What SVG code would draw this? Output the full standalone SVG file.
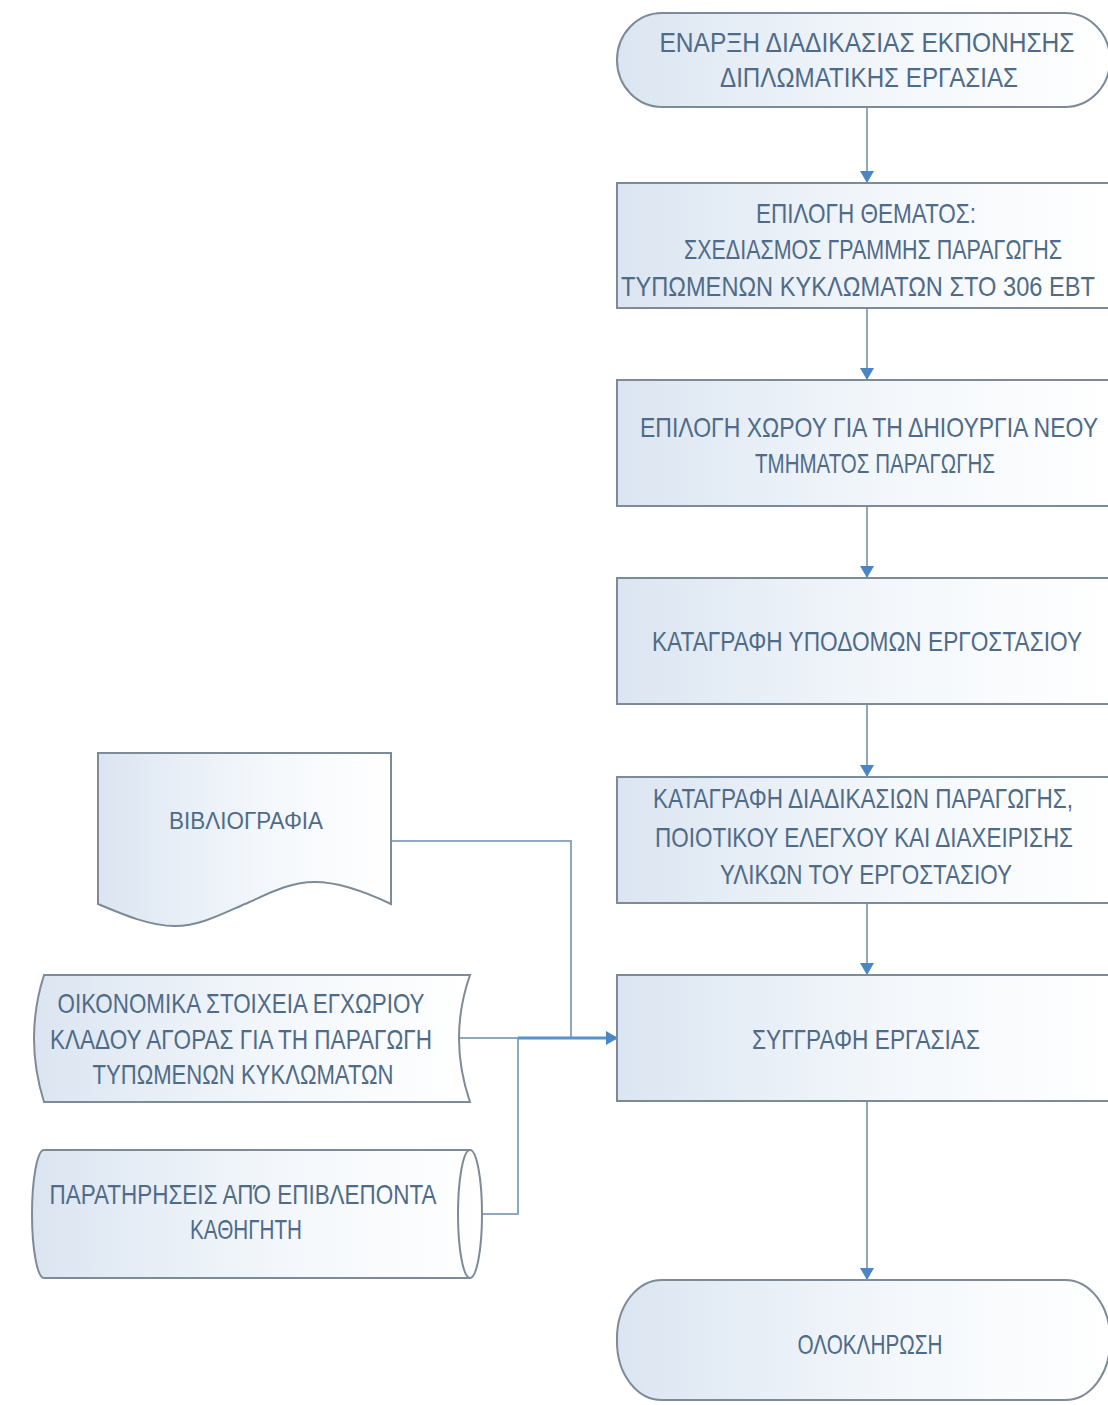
<svg xmlns="http://www.w3.org/2000/svg" width="1108" height="1405" viewBox="0 0 1108 1405">
  <defs>
    <linearGradient id="shapeFill" x1="0" y1="0" x2="1" y2="0">
      <stop offset="0" stop-color="#dbe5f1"/>
      <stop offset="0.55" stop-color="#f3f7fb"/>
      <stop offset="1" stop-color="#ffffff"/>
    </linearGradient>
    <marker id="arrow" viewBox="0 0 12 14" refX="12" refY="7" markerWidth="12" markerHeight="14" markerUnits="userSpaceOnUse" orient="auto">
      <path d="M0,0 L12,7 L0,14 Z" fill="#4a86c4"/>
    </marker>
    <style>
      .shape { fill: url(#shapeFill); stroke: #7d8b98; stroke-width: 2; }
      .edge { fill: none; stroke: #8fa7bf; stroke-width: 2; }
      .main { fill: none; stroke: #5b90c9; stroke-width: 3; }
      .lbl { font-family: "Liberation Sans Narrow", "Liberation Sans", Arial, sans-serif; font-size: 28px; fill: #4f6b88; text-anchor: middle; }
      .small { font-size: 24px; }
    </style>
  </defs>

  <rect width="1108" height="1405" fill="#ffffff"/>

  <!-- connectors -->
  <g id="connectors">
    <path class="edge" d="M867,107 V183" marker-end="url(#arrow)"/>
    <path class="edge" d="M867,308 V380" marker-end="url(#arrow)"/>
    <path class="edge" d="M867,506 V578" marker-end="url(#arrow)"/>
    <path class="edge" d="M867,704 V777" marker-end="url(#arrow)"/>
    <path class="edge" d="M867,903 V975" marker-end="url(#arrow)"/>
    <path class="edge" d="M867,1101 V1280" marker-end="url(#arrow)"/>
    <path class="edge" d="M391,841 H571 V1038"/>
    <path class="edge" d="M482,1214 H518 V1038"/>
    <path class="edge" d="M459,1038 H520"/>
    <path class="main" d="M518,1038 H618" marker-end="url(#arrow)"/>
  </g>

  <!-- start terminator -->
  <g id="start">
    <rect class="shape" x="617" y="13" width="493" height="94" rx="45" ry="47"/>
    <text class="lbl" x="867" y="52" textLength="415" lengthAdjust="spacingAndGlyphs">ΕΝΑΡΞΗ ΔΙΑΔΙΚΑΣΙΑΣ ΕΚΠΟΝΗΣΗΣ</text>
    <text class="lbl" x="869" y="87" textLength="298" lengthAdjust="spacingAndGlyphs">ΔΙΠΛΩΜΑΤΙΚΗΣ ΕΡΓΑΣΙΑΣ</text>
  </g>

  <g id="topic">
    <rect class="shape" x="617" y="183" width="493" height="125"/>
    <text class="lbl" x="866" y="223" textLength="220" lengthAdjust="spacingAndGlyphs">ΕΠΙΛΟΓΗ ΘΕΜΑΤΟΣ:</text>
    <text class="lbl" x="873" y="259" textLength="378" lengthAdjust="spacingAndGlyphs">ΣΧΕΔΙΑΣΜΟΣ ΓΡΑΜΜΗΣ ΠΑΡΑΓΩΓΗΣ</text>
    <text class="lbl" x="858" y="296" textLength="474" lengthAdjust="spacingAndGlyphs">ΤΥΠΩΜΕΝΩΝ ΚΥΚΛΩΜΑΤΩΝ ΣΤΟ 306 ΕΒΤ</text>
  </g>

  <g id="site">
    <rect class="shape" x="617" y="380" width="493" height="126"/>
    <text class="lbl" x="869" y="437" textLength="458" lengthAdjust="spacingAndGlyphs">ΕΠΙΛΟΓΗ ΧΩΡΟΥ ΓΙΑ ΤΗ ΔΗΙΟΥΡΓΙΑ ΝΕΟΥ</text>
    <text class="lbl" x="875" y="473" textLength="240" lengthAdjust="spacingAndGlyphs">ΤΜΗΜΑΤΟΣ ΠΑΡΑΓΩΓΗΣ</text>
  </g>

  <g id="infrastructure">
    <rect class="shape" x="617" y="578" width="493" height="126"/>
    <text class="lbl" x="867" y="651" textLength="430" lengthAdjust="spacingAndGlyphs">ΚΑΤΑΓΡΑΦΗ ΥΠΟΔΟΜΩΝ ΕΡΓΟΣΤΑΣΙΟΥ</text>
  </g>

  <g id="processes">
    <rect class="shape" x="617" y="777" width="493" height="126"/>
    <text class="lbl" x="863" y="808" textLength="420" lengthAdjust="spacingAndGlyphs">ΚΑΤΑΓΡΑΦΗ ΔΙΑΔΙΚΑΣΙΩΝ ΠΑΡΑΓΩΓΗΣ,</text>
    <text class="lbl" x="864" y="847" textLength="418" lengthAdjust="spacingAndGlyphs">ΠΟΙΟΤΙΚΟΥ ΕΛΕΓΧΟΥ ΚΑΙ ΔΙΑΧΕΙΡΙΣΗΣ</text>
    <text class="lbl" x="866" y="884" textLength="292" lengthAdjust="spacingAndGlyphs">ΥΛΙΚΩΝ ΤΟΥ ΕΡΓΟΣΤΑΣΙΟΥ</text>
  </g>

  <g id="writing">
    <rect class="shape" x="617" y="975" width="493" height="126"/>
    <text class="lbl" x="866" y="1049" textLength="228" lengthAdjust="spacingAndGlyphs">ΣΥΓΓΡΑΦΗ ΕΡΓΑΣΙΑΣ</text>
  </g>

  <!-- end terminator -->
  <g id="end">
    <rect class="shape" x="617" y="1280" width="493" height="120" rx="45" ry="58"/>
    <text class="lbl" x="870" y="1354" textLength="145" lengthAdjust="spacingAndGlyphs">ΟΛΟΚΛΗΡΩΣΗ</text>
  </g>

  <!-- document -->
  <g id="bibliography">
    <path class="shape" d="M98,753 H391 V904 C370,894 342,882 315,882 S266,895 245,904 S200,926 175,926 S124,915 98,904 Z"/>
    <text class="lbl small" x="246" y="829" textLength="154" lengthAdjust="spacingAndGlyphs">ΒΙΒΛΙΟΓΡΑΦΙΑ</text>
  </g>

  <!-- stored data -->
  <g id="market-data">
    <path class="shape" d="M44,975 H470 Q448,1038 470,1102 H44 Q24,1038 44,975 Z"/>
    <text class="lbl" x="241" y="1013" textLength="367" lengthAdjust="spacingAndGlyphs">ΟΙΚΟΝΟΜΙΚΑ ΣΤΟΙΧΕΙΑ ΕΓΧΩΡΙΟΥ</text>
    <text class="lbl" x="241" y="1049" textLength="382" lengthAdjust="spacingAndGlyphs">ΚΛΑΔΟΥ ΑΓΟΡΑΣ ΓΙΑ ΤΗ ΠΑΡΑΓΩΓΗ</text>
    <text class="lbl" x="243" y="1084" textLength="301" lengthAdjust="spacingAndGlyphs">ΤΥΠΩΜΕΝΩΝ ΚΥΚΛΩΜΑΤΩΝ</text>
  </g>

  <!-- direct access storage -->
  <g id="supervisor-notes">
    <path class="shape" d="M44,1150 H470 A12,64 0 0 1 470,1278 H44 A12,64 0 0 1 44,1150 Z"/>
    <path d="M470,1150 A12,64 0 0 0 470,1278" fill="none" stroke="#7d8b98" stroke-width="2"/>
    <text class="lbl" x="243" y="1204" textLength="387" lengthAdjust="spacingAndGlyphs">ΠΑΡΑΤΗΡΗΣΕΙΣ ΑΠΌ ΕΠΙΒΛΕΠΟΝΤΑ</text>
    <text class="lbl" x="246" y="1239" textLength="112" lengthAdjust="spacingAndGlyphs">ΚΑΘΗΓΗΤΗ</text>
  </g>
</svg>
